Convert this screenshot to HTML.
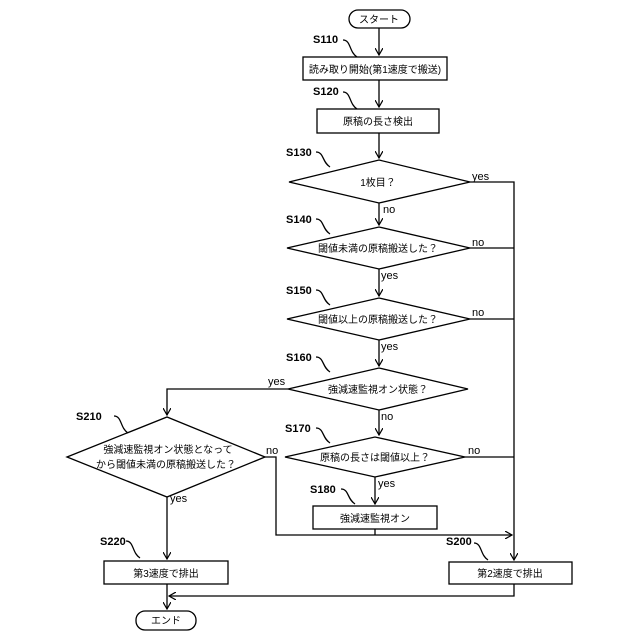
<!DOCTYPE html>
<html><head><meta charset="utf-8"><style>body{margin:0;background:#fff}svg{display:block}text{font-family:"Liberation Sans","Noto Sans CJK JP",sans-serif;fill:#000}</style></head><body>
<svg width="640" height="640" viewBox="0 0 640 640">
<defs><marker id="a" markerWidth="8" markerHeight="8" refX="7" refY="4" orient="auto" markerUnits="userSpaceOnUse"><path d="M0,0 L7,4 L0,8" fill="none" stroke="#000" stroke-width="1.2"/></marker></defs>
<g stroke="#000" stroke-width="1.3" fill="none">
<rect x="349" y="10" width="61" height="18" rx="9"/>
<rect x="303" y="57" width="144" height="23"/>
<rect x="317" y="109" width="122" height="24"/>
<polygon points="289,182 379,160 470,182 379,203"/>
<polygon points="287,248 379,227 470,248 379,269"/>
<polygon points="287,319 379,298 470,319 379,340"/>
<polygon points="288,389 379,368 468,389 379,410"/>
<polygon points="67,457 167,417 265,457 167,497"/>
<polygon points="285,457 375,437 465,457 375,477"/>
<rect x="313" y="506" width="124" height="23"/>
<rect x="449" y="562" width="123" height="22"/>
<rect x="104" y="561" width="124" height="23"/>
<rect x="136" y="611" width="60" height="19" rx="9"/>
<path d="M379,28V55" marker-end="url(#a)"/>
<path d="M379,80V107" marker-end="url(#a)"/>
<path d="M379,133V158" marker-end="url(#a)"/>
<path d="M379,203V225" marker-end="url(#a)"/>
<path d="M379,269V296" marker-end="url(#a)"/>
<path d="M379,340V366" marker-end="url(#a)"/>
<path d="M379,410V435" marker-end="url(#a)"/>
<path d="M375,477V504" marker-end="url(#a)"/>
<path d="M375,529V535"/>
<path d="M470,182H514V560" marker-end="url(#a)"/>
<path d="M470,248H514"/>
<path d="M470,319H514"/>
<path d="M465,457H514"/>
<path d="M288,389H167V415" marker-end="url(#a)"/>
<path d="M265,457H276V535H512" marker-end="url(#a)"/>
<path d="M167,497V559" marker-end="url(#a)"/>
<path d="M514,584V596H169" marker-end="url(#a)"/>
<path d="M167,584V609" marker-end="url(#a)"/>
<path d="M343,40c8,0 6,12 14,17M343,92c8,0 6,12 14,17M316,152c8,0 6,10 14,15M316,219c8,0 6,10 14,15M316,290c8,0 6,10 14,15M316,357c8,0 6,10 14,15M316,428c8,0 6,10 14,15M341,489c8,0 6,10 14,15M114,416c8,0 6,12 14,17M126,541c8,0 6,12 14,17M474,543c8,0 6,12 14,17"/>
</g>
<g font-size="11" font-weight="bold">
<text x="313" y="43">S110</text><text x="313" y="95">S120</text><text x="286" y="156">S130</text>
<text x="286" y="223">S140</text><text x="286" y="294">S150</text><text x="286" y="361">S160</text>
<text x="76" y="420">S210</text><text x="285" y="432">S170</text><text x="310" y="493">S180</text>
<text x="100" y="545">S220</text><text x="446" y="545">S200</text>
</g>
<g font-size="11">
<text x="472" y="180">yes</text><text x="383" y="213">no</text><text x="472" y="246">no</text>
<text x="381" y="279">yes</text><text x="472" y="316">no</text><text x="381" y="350">yes</text>
<text x="268" y="385">yes</text><text x="381" y="420">no</text><text x="266" y="454">no</text>
<text x="468" y="454">no</text><text x="378" y="487">yes</text><text x="170" y="502">yes</text>
</g>
<g font-size="10" text-anchor="middle">
<text x="379" y="23">スタート</text>
<text x="375" y="73">読み取り開始(第1速度で搬送)</text>
<text x="378" y="125">原稿の長さ検出</text>
<text x="378" y="186">1枚目？</text>
<text x="378" y="252">閾値未満の原稿搬送した？</text>
<text x="378" y="323">閾値以上の原稿搬送した？</text>
<text x="378" y="393">強減速監視オン状態？</text>
<text x="168" y="453">強減速監視オン状態となって</text>
<text x="166" y="468">から閾値未満の原稿搬送した？</text>
<text x="375" y="461">原稿の長さは閾値以上？</text>
<text x="375" y="522">強減速監視オン</text>
<text x="510" y="577">第2速度で排出</text>
<text x="166" y="577">第3速度で排出</text>
<text x="166" y="624">エンド</text>
</g>
</svg>
</body></html>
